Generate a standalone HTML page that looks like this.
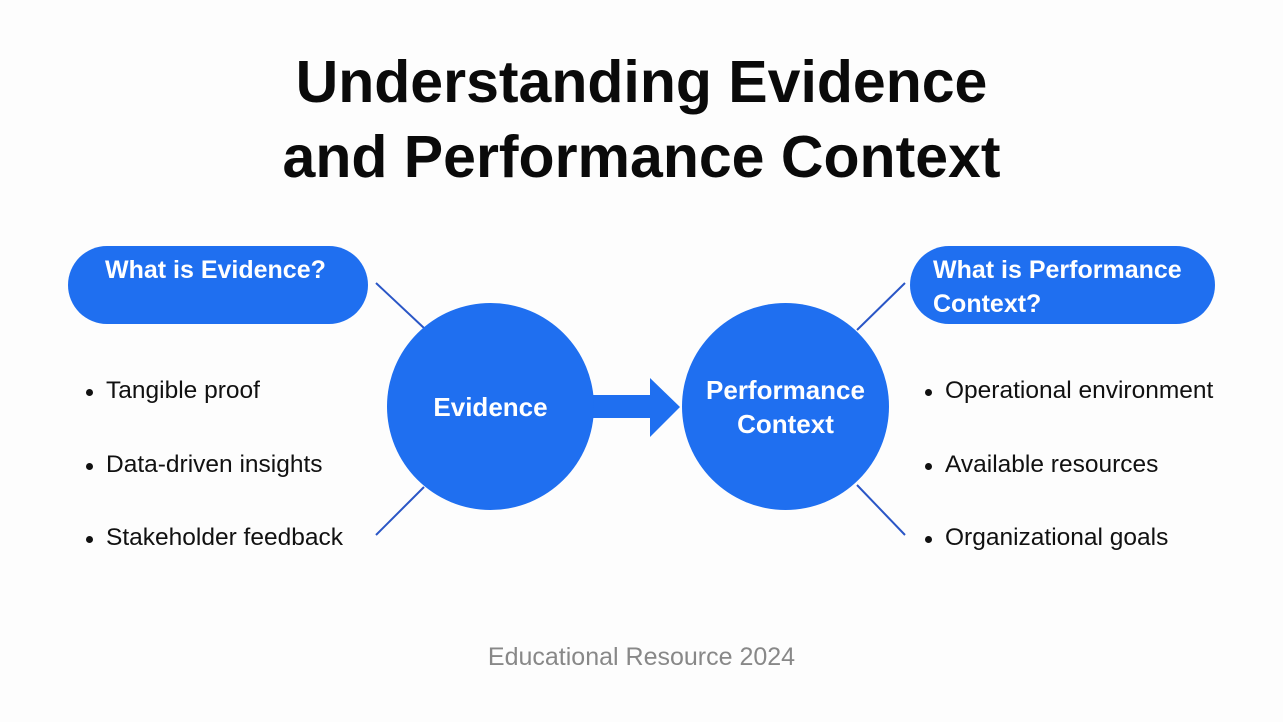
<!DOCTYPE html>
<html><head><meta charset="utf-8"><style>
body{margin:0;width:1283px;height:722px;background:#fdfdfd;font-family:"Liberation Sans",sans-serif;overflow:hidden;position:relative}
.t{position:absolute;left:0;width:1283px;text-align:center;font-weight:bold;font-size:59px;color:#0a0a0a}
.pill{position:absolute;background:#1f6ff0;border-radius:40px;color:#fff;font-weight:bold;font-size:25px}
.li{position:absolute;font-size:24.5px;color:#111}
.li:before{content:"";position:absolute;left:-20px;top:12px;width:7px;height:7px;border-radius:50%;background:#111}
.c{position:absolute;border-radius:50%;background:#1f6ff0;color:#fff;font-weight:bold;font-size:26px;display:flex;align-items:center;justify-content:center;text-align:center;line-height:34px}
</style></head><body>
<div class="t" style="top:48px">Understanding Evidence</div>
<div class="t" style="top:123px">and Performance Context</div>
<svg width="1283" height="722" style="position:absolute;left:0;top:0">
<g stroke="#2a56c6" stroke-width="2">
<line x1="376" y1="283" x2="424" y2="328"/><line x1="376" y1="535" x2="424" y2="487"/>
<line x1="905" y1="283" x2="857" y2="330"/><line x1="857" y1="485" x2="905" y2="535"/>
</g>
<polygon points="585,395 650,395 650,378 680,407 650,437 650,418 585,418" fill="#1f6ff0"/>
</svg>
<div class="pill" style="left:68px;top:246px;width:300px;height:78px"><div style="position:absolute;left:37px;top:10px">What is Evidence?</div></div>
<div class="pill" style="left:910px;top:246px;width:305px;height:78px"><div style="position:absolute;left:23px;top:7px;line-height:34px">What is Performance<br>Context?</div></div>
<div class="c" style="left:387px;top:303px;width:207px;height:207px">Evidence</div>
<div class="c" style="left:682px;top:303px;width:207px;height:207px">Performance<br>Context</div>
<div class="li" style="left:106px;top:377px">Tangible proof</div>
<div class="li" style="left:106px;top:451px">Data-driven insights</div>
<div class="li" style="left:106px;top:524px">Stakeholder feedback</div>
<div class="li" style="left:945px;top:377px">Operational environment</div>
<div class="li" style="left:945px;top:451px">Available resources</div>
<div class="li" style="left:945px;top:524px">Organizational goals</div>
<div style="position:absolute;left:0;width:1283px;text-align:center;top:643px;font-size:25px;color:#888">Educational Resource 2024</div>
</body></html>
